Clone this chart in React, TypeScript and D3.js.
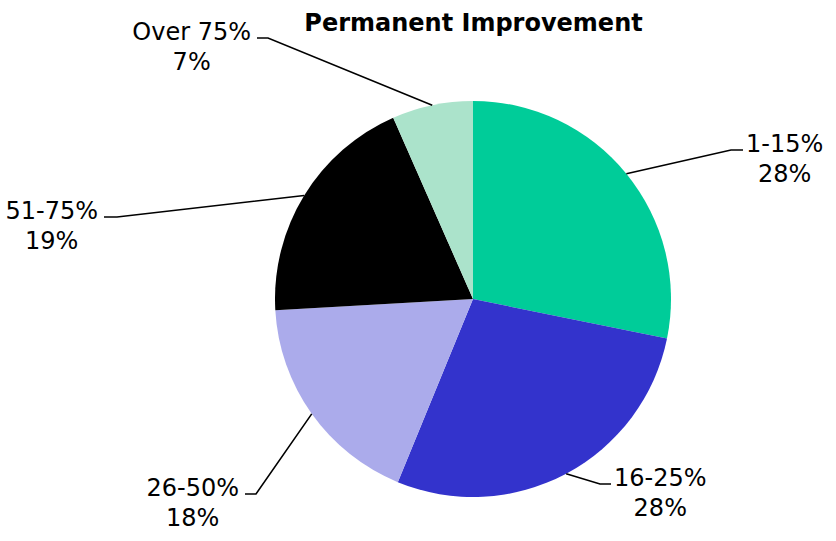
import React from "react";
import * as d3 from "d3";

const categories = ["1-15%", "16-25%", "26-50%", "51-75%", "Over 75%"];
const values = [28.2, 28.0, 17.9, 19.3, 6.6];
const valueLabels = ["28%", "28%", "18%", "19%", "7%"];
const colors = ["#00CC99", "#3333CC", "#ABABEB", "#000000", "#ABE3CB"];
const title = "Permanent Improvement";

// label layout: elbow point and end of horizontal leader, side
const labelLayout = [
  { ex: 731, ey: 150, lx: 743, side: "right" },
  { ex: 600, ey: 484, lx: 611, side: "right" },
  { ex: 256, ey: 494, lx: 245, side: "left" },
  { ex: 117, ey: 217, lx: 104, side: "left" },
  { ex: 268, ey: 38, lx: 257, side: "left" },
];

const W = 836;
const H = 541;
const FONT = "'DejaVu Sans', Verdana, Tahoma, sans-serif";
const FS = 24;

let ctx: CanvasRenderingContext2D | null = null;
function measure(t: string, font: string) {
  if (!ctx) {
    const c = document.createElement("canvas");
    ctx = c.getContext("2d");
  }
  if (!ctx) return t.length * FS * 0.6;
  ctx.font = font;
  return ctx.measureText(t).width;
}

export default function App() {
  const cx = 473;
  const cy = 299;
  const r = 198;

  const pie = d3.pie<number>().sort(null).value((d) => d);
  const arcs = pie(values);
  const arc = d3.arc<d3.PieArcDatum<number>>().innerRadius(0).outerRadius(r);

  return (
    <svg
      width={W}
      height={H}
      style={{ position: "absolute", left: 0, top: 0, background: "#fff" }}
    >
      <text
        x={473.5}
        y={31}
        textAnchor="middle"
        fontFamily={FONT}
        fontSize={24}
        fontWeight="bold"
        fill="#000"
      >
        {title}
      </text>
      <g transform={`translate(${cx},${cy})`}>
        {arcs.map((a, i) => (
          <path key={i} d={arc(a) || ""} fill={colors[i]} />
        ))}
      </g>
      {arcs.map((a, i) => {
        const mid = (a.startAngle + a.endAngle) / 2;
        const sx = cx + r * Math.sin(mid);
        const sy = cy - r * Math.cos(mid);
        const L = labelLayout[i];
        const w = measure(categories[i], `${FS}px ${FONT}`);
        const center =
          L.side === "right" ? L.lx + 3 + w / 2 : L.lx - 6 - w / 2;
        return (
          <g key={i}>
            <polyline
              points={`${sx},${sy} ${L.ex},${L.ey} ${L.lx},${L.ey}`}
              fill="none"
              stroke="#000"
              strokeWidth={1.6}
            />
            <text
              textAnchor="middle"
              fontFamily={FONT}
              fontSize={FS}
              fill="#000"
            >
              <tspan x={center} y={L.ey + 2}>
                {categories[i]}
              </tspan>
              <tspan x={center} y={L.ey + 32}>
                {valueLabels[i]}
              </tspan>
            </text>
          </g>
        );
      })}
    </svg>
  );
}
